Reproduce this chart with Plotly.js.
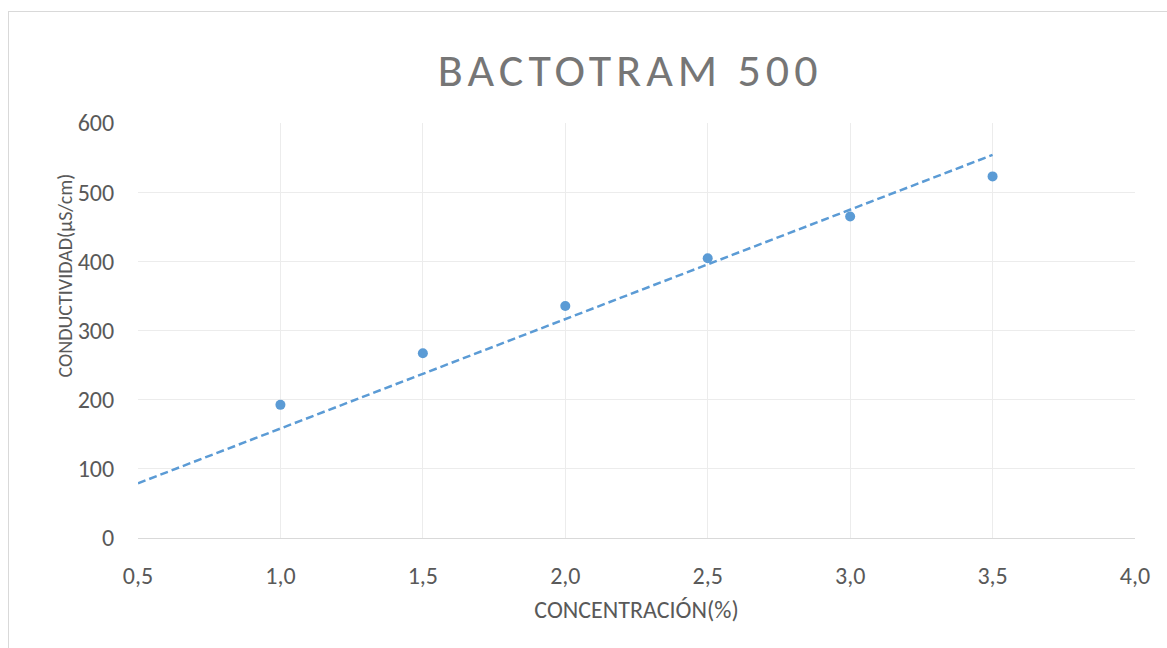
<!DOCTYPE html>
<html>
<head>
<meta charset="utf-8">
<script src="https://cdn.plot.ly/plotly-3.0.1.min.js"></script>
<style>
  html, body { margin: 0; padding: 0; background: #ffffff; }
  #frame { position: absolute; left: 8px; top: 11px; width: 1300px; height: 800px; border: 1px solid #d9d9d9; }
  #chart { position: absolute; left: 0; top: 0; width: 1167px; height: 648px; }
  .gtitle { letter-spacing: 5px; }
</style>
</head>
<body>
<div id="frame"></div>
<div id="chart"></div>
<script>
const concentration = [1.0, 1.5, 2.0, 2.5, 3.0, 3.5];
const conductivity = [192.5, 267.0, 335.4, 404.4, 464.8, 522.8];
const xTickValues = [0.5, 1.0, 1.5, 2.0, 2.5, 3.0, 3.5, 4.0];
const xTickLabels = ["0,5", "1,0", "1,5", "2,0", "2,5", "3,0", "3,5", "4,0"];
const yTickValues = [0, 100, 200, 300, 400, 500, 600];
const trendRange = [0.5, 3.5];

// Linear trendline through the origin (least squares), drawn over trendRange
let sxy = 0, sxx = 0;
for (let i = 0; i < concentration.length; i++) {
  sxy += concentration[i] * conductivity[i];
  sxx += concentration[i] * concentration[i];
}
const slope = sxy / sxx;
const trendX = trendRange;
const trendY = trendRange.map(v => slope * v);

const font = "Calibri, Carlito, 'Open Sans', sans-serif";
const blue = "#5b9bd5";

const traces = [
  {
    x: trendX, y: trendY, type: "scatter", mode: "lines",
    line: { color: blue, width: 2.5, dash: "8px,4px" },
    hoverinfo: "skip", showlegend: false
  },
  {
    x: concentration, y: conductivity, type: "scatter", mode: "markers",
    marker: { color: blue, size: 10 },
    showlegend: false
  }
];

const layout = {
  width: 1167, height: 648,
  margin: { l: 138, r: 32, t: 123, b: 110 },
  paper_bgcolor: "rgba(0,0,0,0)",
  plot_bgcolor: "rgba(0,0,0,0)",
  font: { family: font, color: "#595959", size: 24 },
  title: {
    text: "BACTOTRAM 500",
    font: { family: font, size: 46, color: "#767676" },
    x: 0.540, xanchor: "center", y: 0.892, yanchor: "middle"
  },
  xaxis: {
    range: [0.5, 4.0],
    tickvals: xTickValues, ticktext: xTickLabels,
    showgrid: true, gridcolor: "#ececec", gridwidth: 1,
    zeroline: false,
    showline: true, linecolor: "#d9d9d9", linewidth: 1,
    ticks: "outside", ticklen: 16, tickcolor: "rgba(0,0,0,0)",
    tickfont: { family: font, size: 24, color: "#595959" },
    title: { text: "CONCENTRACIÓN(%)", font: { family: font, size: 24, color: "#595959" }, standoff: 12 }
  },
  yaxis: {
    range: [0, 600],
    tickvals: yTickValues,
    showgrid: true, gridcolor: "#ececec", gridwidth: 1,
    zeroline: false, showline: false,
    ticks: "outside", ticklen: 18, tickcolor: "rgba(0,0,0,0)",
    tickfont: { family: font, size: 24, color: "#595959" }
  },
  annotations: [{
    text: "CONDUCTIVIDAD(µS/cm)",
    xref: "paper", yref: "paper", x: 0, y: 0.6325,
    xanchor: "center", yanchor: "middle", xshift: -73,
    textangle: -90, showarrow: false,
    font: { family: font, size: 20, color: "#595959" }
  }]
};

Plotly.newPlot("chart", traces, layout, { displayModeBar: false, staticPlot: true });
</script>
</body>
</html>
